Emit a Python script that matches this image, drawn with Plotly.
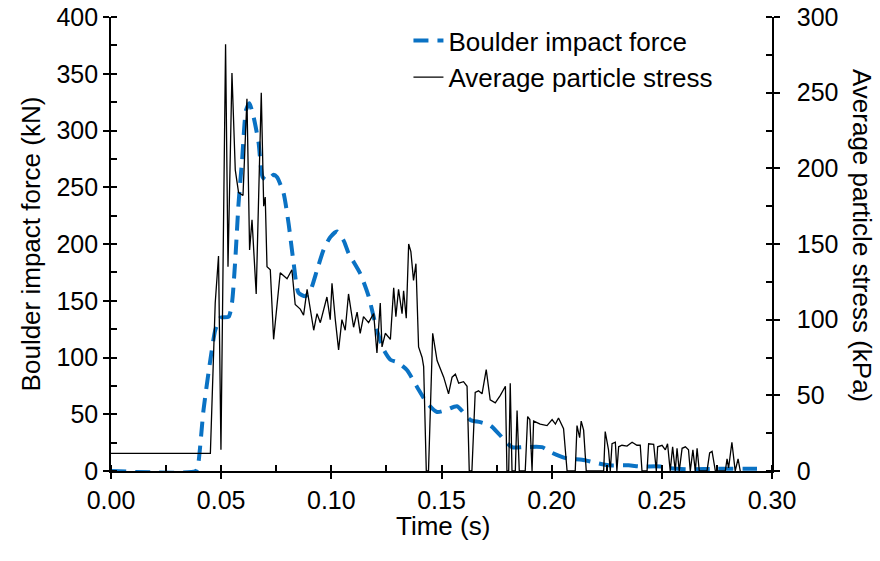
import plotly.graph_objects as go

# Boulder impact force (kN), left axis
force_t = [0.000, 0.0385, 0.0395, 0.0420, 0.0451, 0.0473, 0.0496, 0.0534, 0.0549, 0.0564,
           0.0579, 0.0595, 0.0613, 0.0628, 0.0647, 0.0670, 0.0688, 0.0708, 0.0738, 0.0753,
           0.0783, 0.0806, 0.0829, 0.0851, 0.0882, 0.0905, 0.0935, 0.0965, 0.0995, 0.1026,
           0.1056, 0.1078, 0.1131, 0.1169, 0.1207, 0.1237, 0.1268, 0.1298, 0.1343, 0.1389,
           0.1434, 0.1480, 0.1525, 0.1570, 0.1631, 0.1676, 0.1722, 0.1759, 0.1820, 0.1871,
           0.1956, 0.2002, 0.2070, 0.2138, 0.2206, 0.2258, 0.2349, 0.2402, 0.2493, 0.2538,
           0.2629, 0.2750, 0.2932]
force_kN = [0, 0, 5, 54, 98, 124, 135, 136, 148, 186,
            236, 274, 318, 324, 312, 289, 259, 256, 261, 259,
            245, 218, 183, 157, 154, 159, 177, 195, 206, 211,
            203, 192, 174, 154, 124, 107, 98, 96, 89, 74,
            60, 52, 54, 57, 45, 43, 40, 33, 21, 21,
            21, 16, 11, 10, 7, 5, 5, 4, 4, 2.4,
            1.5, 2, 2]

# Average particle stress (kPa), right axis
stress_t = [0.000, 0.0451, 0.0473, 0.0488, 0.0499, 0.0520, 0.0531, 0.0549, 0.0564, 0.0579,
            0.0599, 0.0617, 0.0629, 0.0640, 0.0659, 0.0682, 0.0693, 0.0700, 0.0708, 0.0723,
            0.0738, 0.0768, 0.0799, 0.0821, 0.0836, 0.0859, 0.0874, 0.0890, 0.0920, 0.0935,
            0.0950, 0.0980, 0.0995, 0.1003, 0.1018, 0.1033, 0.1048, 0.1063, 0.1078, 0.1101,
            0.1117, 0.1131, 0.1146, 0.1169, 0.1192, 0.1207, 0.1222, 0.1230, 0.1245, 0.1268,
            0.1283, 0.1293, 0.1305, 0.1321, 0.1328, 0.1340, 0.1351, 0.1361, 0.1373, 0.1384,
            0.1396, 0.1412, 0.1419, 0.1431, 0.1441, 0.1460, 0.1480, 0.1510, 0.1532, 0.1548,
            0.1563, 0.1578, 0.1600, 0.1616, 0.1626, 0.1638, 0.1653, 0.1668, 0.1684, 0.1703,
            0.1721, 0.1744, 0.1767, 0.1790, 0.1797, 0.1805, 0.1812, 0.1820, 0.1835, 0.1843,
            0.1853, 0.1880, 0.1891, 0.1901, 0.1911, 0.1918, 0.1948, 0.1979, 0.2002, 0.2017,
            0.2031, 0.2054, 0.2070, 0.2107, 0.2115, 0.2127, 0.2134, 0.2145, 0.2157, 0.2236,
            0.2243, 0.2258, 0.2266, 0.2274, 0.2289, 0.2296, 0.2304, 0.2319, 0.2342, 0.2365,
            0.2387, 0.2402, 0.2410, 0.2433, 0.2440, 0.2463, 0.2475, 0.2481, 0.2501, 0.2516,
            0.2526, 0.2538, 0.2549, 0.2561, 0.2569, 0.2579, 0.2592, 0.2607, 0.2621, 0.2629,
            0.2641, 0.2652, 0.2660, 0.2670, 0.2705, 0.2717, 0.2728, 0.2743, 0.2788, 0.2796,
            0.2803, 0.2818, 0.2833, 0.2846, 0.2856]
stress_kPa = [11.7, 11.7, 111, 142, 14, 282, 135, 263, 199, 184,
              182, 246, 146, 166, 117, 250, 175, 181, 135, 133,
              87, 131, 127, 133, 110, 107, 103, 120, 93, 104,
              98, 115, 100, 124, 100, 80, 100, 93, 117, 95,
              105, 91, 102, 98, 104, 78, 111, 82, 91, 87,
              121, 102, 120, 104, 119, 101, 150, 145, 126, 137,
              82, 75, 69, 0, 0, 91, 73, 62, 51, 62,
              64, 58, 59, 56, 0, 0, 52, 53, 51, 67,
              47, 45, 50, 56, 0, 0, 58, 0, 0, 40,
              0, 0, 36, 34, 0, 33, 31, 30, 34, 31,
              35, 28, 0, 0, 30, 22, 33, 27, 0, 0,
              26, 14, 0, 18, 19, 0, 16, 17, 16.5, 19,
              17, 17, 0, 0, 18, 17.6, 0, 16, 17, 14,
              18, 0, 16, 0, 15, 0, 15, 16, 14, 0,
              14, 0, 15, 0, 0, 12, 13, 0, 0, 8,
              2, 19, 0, 8, 0]

FONT = "Liberation Sans, Arial, sans-serif"
TITLE_SIZE = 26

fig = go.Figure()
fig.add_trace(go.Scatter(
    x=force_t, y=force_kN, name="Boulder impact force", mode="lines",
    line=dict(color="#0A72C4", width=4, dash="15px,9px", shape="spline", smoothing=0.6),
    yaxis="y",
))
fig.add_trace(go.Scatter(
    x=stress_t, y=stress_kPa, name="Average particle stress", mode="lines",
    line=dict(color="black", width=1.3),
    yaxis="y2",
))

axis_common = dict(
    showgrid=False, zeroline=False, showline=True, linecolor="black", linewidth=1.6,
    ticks="outside", ticklen=6, tickwidth=1.6, tickcolor="black", automargin=False,
    tickfont=dict(family=FONT, size=25, color="black"),
)

fig.update_layout(
    width=880, height=561,
    margin=dict(l=111, r=108, t=17, b=90),
    paper_bgcolor="white", plot_bgcolor="white",
    font=dict(family=FONT, size=25, color="black"),
    xaxis=dict(
        range=[0, 0.30], dtick=0.05, tickformat=".2f",
        minor=dict(dtick=0.025, ticks="inside", ticklen=6, tickwidth=1.6, tickcolor="black"),
        **axis_common,
    ),
    yaxis=dict(
        range=[0, 400], dtick=50,
        title=dict(text="Boulder impact force (kN)", font=dict(family=FONT, size=TITLE_SIZE), standoff=8),
        minor=dict(dtick=25, ticks="inside", ticklen=6, tickwidth=1.6, tickcolor="black"),
        **axis_common,
    ),
    yaxis2=dict(
        range=[0, 300], dtick=50, overlaying="y", side="right",
        ticklabelstandoff=12,
        minor=dict(dtick=25, ticks="inside", ticklen=6, tickwidth=1.6, tickcolor="black"),
        **axis_common,
    ),
    legend=dict(
        x=0.45, y=1.0, xanchor="left", yanchor="top",
        bgcolor="rgba(0,0,0,0)", font=dict(family=FONT, size=26, color="black"),
        tracegroupgap=0,
    ),
    showlegend=True,
    annotations=[
        dict(
            text="Time (s)", xref="paper", yref="paper",
            x=0.503, y=-0.121, xanchor="center", yanchor="middle",
            showarrow=False, font=dict(family=FONT, size=TITLE_SIZE, color="black"),
        ),
        dict(
            text="Average particle stress (kPa)", xref="paper", yref="paper",
            x=1.136, y=0.518, xanchor="center", yanchor="middle", textangle=90,
            showarrow=False, font=dict(family=FONT, size=TITLE_SIZE, color="black"),
        ),
    ],
)

fig.write_html("out.html")
